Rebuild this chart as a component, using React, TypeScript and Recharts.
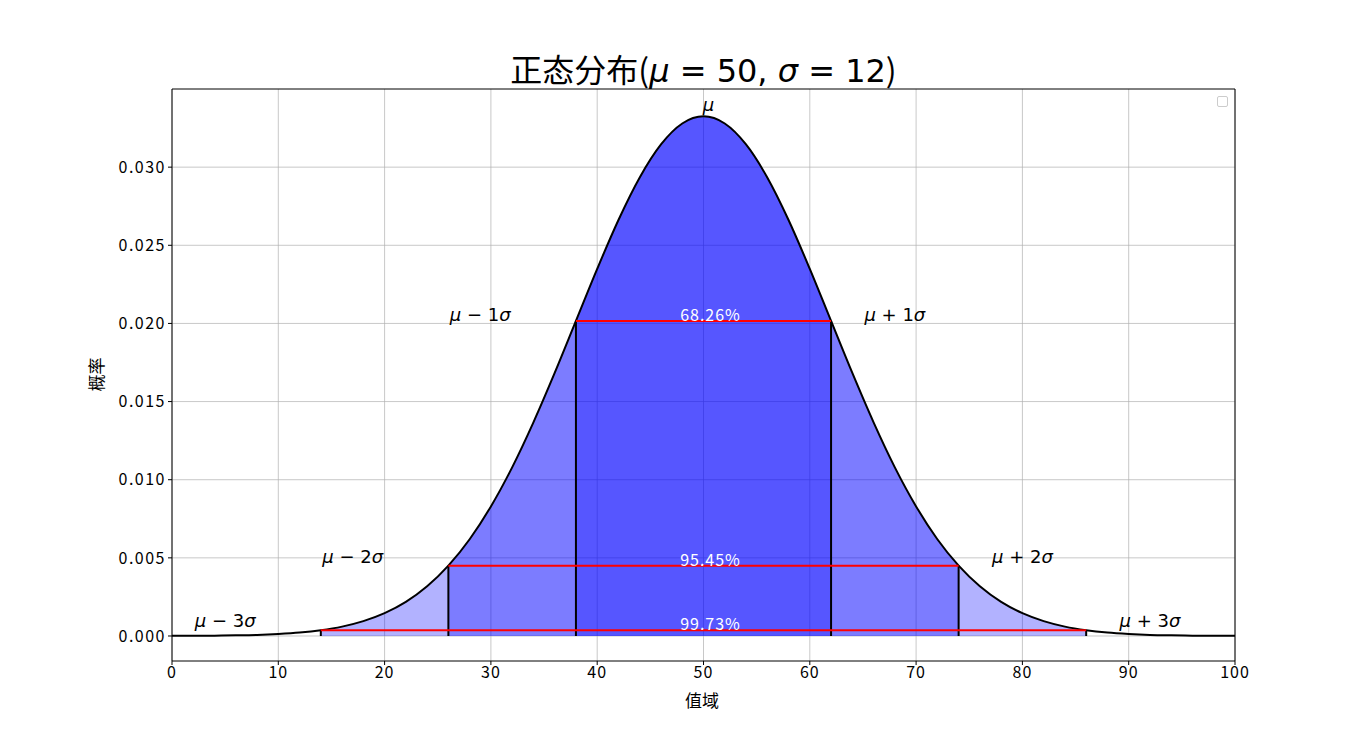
import React from 'react'
import {
    ComposedChart,
    Area,
    Line,
    XAxis,
    YAxis,
    CartesianGrid,
    ReferenceLine,
    ReferenceDot,
} from 'recharts'

// values (mu = 50, sigma = 12)
const xs = [0, 2, 4, 6, 8, 10, 12, 14, 16, 18, 20, 22, 24, 26, 28, 30, 32, 34, 36, 38, 40, 42, 44, 46, 48, 50,
    52, 54, 56, 58, 60, 62, 64, 66, 68, 70, 72, 74, 76, 78, 80, 82, 84, 86, 88, 90, 92, 94, 96, 98, 100]
const ys = [0.00001, 0.00001, 0.00002, 0.00004, 0.00007, 0.00013, 0.00022, 0.00037, 0.0006, 0.00095, 0.00146,
    0.00218, 0.00318, 0.0045, 0.00619, 0.00829, 0.01079, 0.01367, 0.01683, 0.02016, 0.02349, 0.02662, 0.02934,
    0.03145, 0.03279, 0.03325, 0.03279, 0.03145, 0.02934, 0.02662, 0.02349, 0.02016, 0.01683, 0.01367, 0.01079,
    0.00829, 0.00619, 0.0045, 0.00318, 0.00218, 0.00146, 0.00095, 0.0006, 0.00037, 0.00022, 0.00013, 0.00007,
    0.00004, 0.00002, 0.00001, 0.00001]

// sigma bands: [left, right] and the share inside
const bandLeft = [38, 26, 14]
const bandRight = [62, 74, 86]
const bandPct = ['68.26%', '95.45%', '99.73%']

// sigma labels
const sigmaNames = ['1', '2', '3']
const leftLabelX = [29, 17, 5]
const rightLabelX = [68, 80, 92]
const labelY = [0.0206, 0.0051, 0.001]

const xTicks = [0, 10, 20, 30, 40, 50, 60, 70, 80, 90, 100]
const yTicks = [0, 0.005, 0.01, 0.015, 0.02, 0.025, 0.03]

const yAt = (x: number) => ys[xs.indexOf(x)]

const data = xs.map((x, i) => {
    const row: any = { x, y: ys[i] }
    bandLeft.forEach((l, b) => {
        row['b' + b] = x >= l && x <= bandRight[b] ? ys[i] : null
    })
    return row
})

const cjk = '"Noto Sans CJK SC", "DejaVu Sans", sans-serif'
const math = '"DejaVu Sans", sans-serif'

function SigmaText({ cx, cy, sign, n }: any) {
    return (
        <text x={cx} y={cy} textAnchor="middle" dominantBaseline="central" fontFamily={math} fontSize={18} fill="#000">
            <tspan fontStyle="italic">μ</tspan>
            <tspan>{sign === '-' ? ' − ' : ' + '}{n}</tspan>
            <tspan fontStyle="italic">σ</tspan>
        </text>
    )
}

export default function App() {
    return (
        <div style={{ position: 'absolute', left: 0, top: 0, width: 1372, height: 743, background: '#fff' }}>
            <div
                style={{
                    position: 'absolute', left: 172, width: 1063, top: 46, textAlign: 'center',
                    fontSize: 32, fontFamily: cjk, color: '#000', lineHeight: '44px',
                }}
            >
                正态分布(<span style={{ fontFamily: math }}><i>μ</i> = 50, <i>σ</i> = 12</span>)
            </div>
            <div style={{ position: 'absolute', left: 672, width: 60, top: 687, textAlign: 'center', fontFamily: cjk, fontSize: 17 }}>
                值域
            </div>
            <div
                style={{
                    position: 'absolute', left: 65, top: 362, width: 60, textAlign: 'center', fontFamily: cjk, fontSize: 17,
                    transform: 'rotate(-90deg)',
                }}
            >
                概率
            </div>
            <div
                style={{
                    position: 'absolute', left: 1217, top: 96, width: 9, height: 9, border: '1px solid #ccc',
                    borderRadius: 2,
                }}
            />
            <ComposedChart
                width={1372}
                height={743}
                data={data}
                margin={{ top: 89, right: 137, left: 112, bottom: 52 }}
            >
                <CartesianGrid stroke="#b0b0b0" strokeOpacity={0.7} horizontalValues={yTicks} verticalValues={xTicks} />
                <XAxis
                    dataKey="x"
                    type="number"
                    domain={[0, 100]}
                    ticks={xTicks}
                    height={30}
                    tickSize={4}
                    axisLine={{ stroke: '#000' }}
                    tickLine={{ stroke: '#000' }}
                    tick={{ fill: '#000', fontSize: 16, fontFamily: cjk, letterSpacing: 1 }}
                />
                <YAxis
                    type="number"
                    domain={[-0.0016, 0.035]}
                    allowDataOverflow
                    ticks={yTicks}
                    width={60}
                    tickSize={4}
                    tickFormatter={(v: number) => v.toFixed(3)}
                    axisLine={{ stroke: '#000' }}
                    tickLine={{ stroke: '#000' }}
                    tick={{ fill: '#000', fontSize: 16, fontFamily: cjk, letterSpacing: 1.5 }}
                />
                {bandLeft.map((_, b) => (
                    <Area
                        key={'band' + b}
                        dataKey={'b' + b}
                        type="monotone"
                        stroke="none"
                        fill="#0000ff"
                        fillOpacity={0.3}
                        baseValue={0}
                        connectNulls={false}
                        isAnimationActive={false}
                    />
                ))}
                <Line dataKey="y" type="monotone" stroke="#000" strokeWidth={2} dot={false} isAnimationActive={false} />
                {bandLeft.map((l) => (
                    <ReferenceLine key={'vl' + l} segment={[{ x: l, y: 0 }, { x: l, y: yAt(l) }]} stroke="#000" strokeWidth={2} />
                ))}
                {bandRight.map((r) => (
                    <ReferenceLine key={'vr' + r} segment={[{ x: r, y: 0 }, { x: r, y: yAt(r) }]} stroke="#000" strokeWidth={2} />
                ))}
                {bandLeft.map((l, b) => (
                    <ReferenceLine
                        key={'h' + b}
                        segment={[{ x: l, y: yAt(l) }, { x: bandRight[b], y: yAt(l) }]}
                        stroke="#ff0000"
                        strokeWidth={2}
                    />
                ))}
                {bandLeft.map((l, b) => (
                    <ReferenceDot
                        key={'p' + b}
                        x={50}
                        y={yAt(l)}
                        r={0}
                        ifOverflow="visible"
                        shape={(p: any) => (
                            <text x={p.cx + 7} y={p.cy - 7} textAnchor="middle" dominantBaseline="central" fontFamily={cjk} fontSize={16} letterSpacing={1} fill="#fff">
                                {bandPct[b]}
                            </text>
                        )}
                    />
                ))}
                {sigmaNames.map((n, i) => (
                    <ReferenceDot
                        key={'sl' + i}
                        x={leftLabelX[i]}
                        y={labelY[i]}
                        r={0}
                        ifOverflow="visible"
                        shape={(p: any) => <SigmaText cx={p.cx} cy={p.cy} sign="-" n={n} />}
                    />
                ))}
                {sigmaNames.map((n, i) => (
                    <ReferenceDot
                        key={'sr' + i}
                        x={rightLabelX[i]}
                        y={labelY[i]}
                        r={0}
                        ifOverflow="visible"
                        shape={(p: any) => <SigmaText cx={p.cx} cy={p.cy} sign="+" n={n} />}
                    />
                ))}
                <ReferenceDot
                    x={50}
                    y={0.034}
                    r={0}
                    ifOverflow="visible"
                    shape={(p: any) => (
                        <text x={p.cx + 5} y={p.cy} textAnchor="middle" dominantBaseline="central" fontFamily={math} fontSize={18} fontStyle="italic">
                            μ
                        </text>
                    )}
                />
                <ReferenceLine y={0.035} stroke="#000" strokeWidth={1} ifOverflow="visible" />
                <ReferenceLine x={100} stroke="#000" strokeWidth={1} ifOverflow="visible" />
            </ComposedChart>
        </div>
    )
}
